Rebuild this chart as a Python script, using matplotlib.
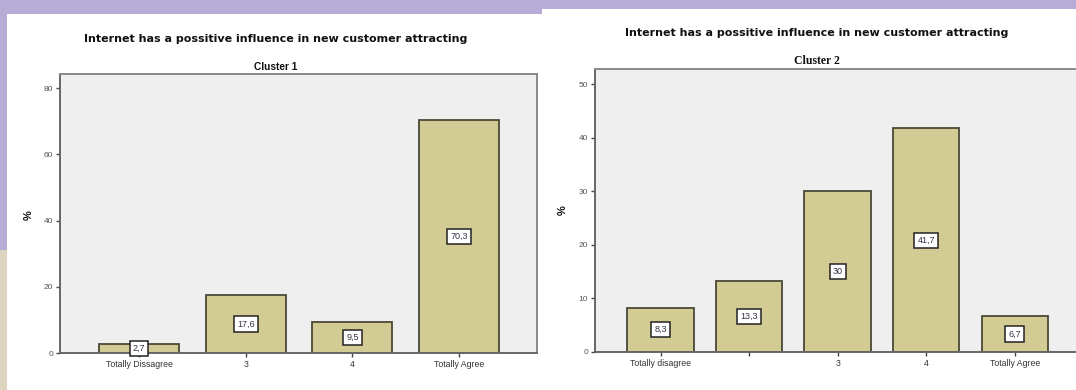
import matplotlib
matplotlib.use("Agg")
import matplotlib.pyplot as plt
from matplotlib.patches import Rectangle

title = "Internet has a possitive influence in new customer attracting"

c1_labels = ["Totally Dissagree", "3", "4", "Totally Agree"]
c1_values = [2.7, 17.6, 9.5, 70.3]

c2_labels = ["Totally disagree", "", "3", "4", "Totally Agree"]
c2_values = [8.3, 13.3, 30, 41.7, 6.7]

W, H = 1076, 390
fig = plt.figure(figsize=(W / 100, H / 100), dpi=100)
fig.patch.set_facecolor("#b6acd6")

# background panels
fig.patches.append(Rectangle((0, 0), 7 / W, 140 / H, transform=fig.transFigure,
                             facecolor="#ddd5bf", edgecolor="none", zorder=-5))
fig.patches.append(Rectangle((7 / W, 0), (542 - 7) / W, 1 - 14 / H, transform=fig.transFigure,
                             facecolor="white", edgecolor="none", zorder=-5))
fig.patches.append(Rectangle((542 / W, 0), (W - 542) / W, 1 - 9 / H, transform=fig.transFigure,
                             facecolor="white", edgecolor="none", zorder=-5))

BAR = "#d2cb94"
EDGE = "#4a4838"
FONT = "Liberation Sans"


def panel(rect, labels, values, ymax, yticks, sub, sub_family, sub_size, title_xy, sub_xy, pct_xy):
    ax = fig.add_axes(rect)
    ax.set_zorder(2)
    ax.set_facecolor("#efefef")
    x = list(range(len(values)))
    ax.bar(x, values, width=0.75, color=BAR, edgecolor=EDGE, linewidth=1.3, zorder=2)
    for xi, v in zip(x, values):
        s = ("%g" % v).replace(".", ",")
        ax.text(xi, v / 2, s, ha="center", va="center", fontsize=6.5, family=FONT,
                color="#333344", zorder=3,
                bbox=dict(boxstyle="square,pad=0.35", facecolor="white",
                          edgecolor="#222222", linewidth=1.1))
    n = len(values)
    ax.set_xlim(-0.74, n - 1 + 0.77 if n == 5 else n - 1 + 0.73)
    ax.set_ylim(0, ymax)
    ax.set_yticks(yticks)
    ax.set_yticklabels([str(t) for t in yticks], fontsize=6, family=FONT, color="#555555")
    ax.set_xticks(x)
    ax.set_xticklabels(labels, fontsize=6.3, family=FONT, color="#333333")
    ax.tick_params(axis="both", length=3, width=1, color="#444444", pad=2)
    for sp in ax.spines.values():
        sp.set_color("#8a8a8a")
        sp.set_linewidth(1.4)
    ax.spines["left"].set_color("#666666")
    ax.spines["bottom"].set_color("#666666")
    fig.text(title_xy[0] / W, 1 - title_xy[1] / H, title, ha="center", va="center",
             fontsize=8.0, fontweight="bold", family="DejaVu Sans", color="#111111")
    fig.text(sub_xy[0] / W, 1 - sub_xy[1] / H, sub, ha="center", va="center",
             fontsize=sub_size, fontweight="bold", family=sub_family, color="#111111")
    fig.text(pct_xy[0] / W, 1 - pct_xy[1] / H, "%", ha="center", va="center", rotation=90,
             fontsize=8, fontweight="bold", family=FONT, color="#111111")
    return ax


panel([60 / W, 1 - 353 / H, (537 - 60) / W, (353 - 74) / H], c1_labels, c1_values,
      84.3, [0, 20, 40, 60, 80], "Cluster 1", FONT, 7.3, (276, 39), (276, 67), (29, 215))
panel([595 / W, 1 - 352 / H, (1083 - 595) / W, (352 - 69) / H], c2_labels, c2_values,
      52.8, [0, 10, 20, 30, 40, 50], "Cluster 2", "Liberation Serif", 8.5, (817, 33), (817, 61), (563, 210))

fig.savefig("out.png", dpi=100, facecolor=fig.get_facecolor())
